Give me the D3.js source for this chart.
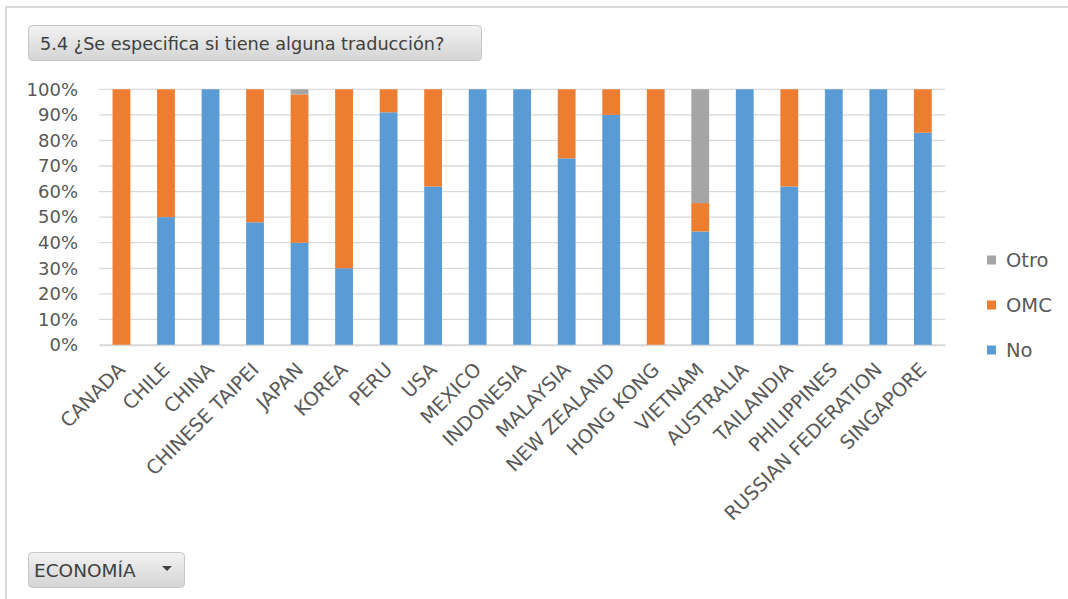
<!DOCTYPE html>
<html><head><meta charset="utf-8">
<script src="https://cdn.jsdelivr.net/npm/d3@7"></script>
<style>
html,body{margin:0;padding:0;background:#fff;}
svg{display:block;font-family:"DejaVu Sans",sans-serif;}
</style></head>
<body>
<svg id="chart" width="1068" height="599"></svg>
<script>
const categories = ["CANADA","CHILE","CHINA","CHINESE TAIPEI","JAPAN","KOREA","PERU","USA","MEXICO","INDONESIA","MALAYSIA","NEW ZEALAND","HONG KONG","VIETNAM","AUSTRALIA","TAILANDIA","PHILIPPINES","RUSSIAN FEDERATION","SINGAPORE"];
const seriesNames = ["No","OMC","Otro"];
const noValues   = [0, 50, 100, 48, 40, 30, 91, 62, 100, 100, 73, 90, 0, 44.4, 100, 62, 100, 100, 83];
const omcValues  = [100, 50, 0, 52, 58, 70, 9, 38, 0, 0, 27, 10, 100, 11.1, 0, 38, 0, 0, 17];
const otroValues = [0, 0, 0, 0, 2, 0, 0, 0, 0, 0, 0, 0, 0, 44.5, 0, 0, 0, 0, 0];
const yTicks = [0,10,20,30,40,50,60,70,80,90,100];
const colors = {"No":"#5B9BD5","OMC":"#ED7D31","Otro":"#A5A5A5"};
const titleText = "5.4 ¿Se especifica si tiene alguna traducción?";
const filterText = "ECONOMÍA";

const svg = d3.select("#chart");
const defs = svg.append("defs");
const grad = defs.append("linearGradient").attr("id","btn").attr("x1",0).attr("y1",0).attr("x2",0).attr("y2",1);
grad.append("stop").attr("offset","0%").attr("stop-color","#f2f2f2");
grad.append("stop").attr("offset","100%").attr("stop-color","#d4d4d4");

// frame
svg.append("line").attr("x1",6).attr("x2",1068).attr("y1",7).attr("y2",7).attr("stroke","#d9d9d9").attr("stroke-width",2);
svg.append("line").attr("x1",6).attr("x2",6).attr("y1",6).attr("y2",599).attr("stroke","#d9d9d9").attr("stroke-width",2);

const margin = {left:99.2, right:945.1, top:89.3, bottom:345};
const x = d3.scaleBand().domain(categories).range([margin.left, margin.right]).paddingInner(0.6).paddingOuter(0.3);
const y = d3.scaleLinear().domain([0,100]).range([margin.bottom, margin.top]);

// gridlines
svg.append("g").selectAll("line").data(yTicks).join("line")
  .attr("x1",margin.left).attr("x2",margin.right)
  .attr("y1",d=>y(d)).attr("y2",d=>y(d))
  .attr("stroke","#d9d9d9").attr("stroke-width",1.3);

// y axis labels
const yAxis = d3.axisLeft(y).tickValues(yTicks).tickFormat(d=>d+"%").tickSize(0).tickPadding(0);
const yg = svg.append("g").attr("transform",`translate(78,0)`).call(yAxis);
yg.select(".domain").remove();
yg.selectAll("text").attr("fill","#595959").style("font-size","18px").style("font-family","'DejaVu Sans',sans-serif");

// stacked data
const rows = categories.map((c,i)=>({cat:c, No:noValues[i], OMC:omcValues[i], Otro:otroValues[i]}));
const stack = d3.stack().keys(seriesNames)(rows);
svg.append("g").selectAll("g").data(stack).join("g")
  .attr("fill",d=>colors[d.key])
  .selectAll("rect").data(d=>d).join("rect")
  .attr("x",d=>x(d.data.cat))
  .attr("width",x.bandwidth())
  .attr("y",d=>y(d[1]))
  .attr("height",d=>Math.max(0,y(d[0])-y(d[1])));

// x labels
const xAxis = d3.axisBottom(x).tickSize(0).tickPadding(0);
const xg = svg.append("g").attr("transform",`translate(0,${margin.bottom})`).call(xAxis);
xg.select(".domain").attr("stroke","#d9d9d9").attr("stroke-width",1.3);
xg.selectAll("text")
  .attr("fill","#595959").style("font-size","19.3px").style("font-family","'DejaVu Sans',sans-serif")
  .attr("text-anchor","end").attr("dy",null).attr("y",0)
  .attr("transform","translate(1,22) rotate(-45)")
  .attr("dominant-baseline","middle");

// legend
const legendItems = ["Otro","OMC","No"];
const lg = svg.append("g").selectAll("g").data(legendItems).join("g")
  .attr("transform",(d,i)=>`translate(987,${260+i*45})`);
lg.append("rect").attr("x",0).attr("y",-4.5).attr("width",9).attr("height",9).attr("fill",d=>colors[d]);
lg.append("text").attr("x",19).attr("y",0).attr("dominant-baseline","central")
  .attr("fill","#595959").style("font-size","19.5px").text(d=>d);

// title button
svg.append("rect").attr("x",28.5).attr("y",25.5).attr("width",453).attr("height",35).attr("rx",4)
  .attr("fill","url(#btn)").attr("stroke","#c6c6c6");
svg.append("text").attr("x",40).attr("y",50).attr("fill","#404040").style("font-size","17.7px").text(titleText);

// filter button
svg.append("rect").attr("x",28.5).attr("y",552.5).attr("width",156).attr("height",35).attr("rx",4)
  .attr("fill","url(#btn)").attr("stroke","#c6c6c6");
svg.append("text").attr("x",34).attr("y",577).attr("fill","#404040").style("font-size","18.5px").text(filterText);
svg.append("path").attr("d","M162,566 L172,566 L167,571 Z").attr("fill","#404040");
</script>
</body></html>
